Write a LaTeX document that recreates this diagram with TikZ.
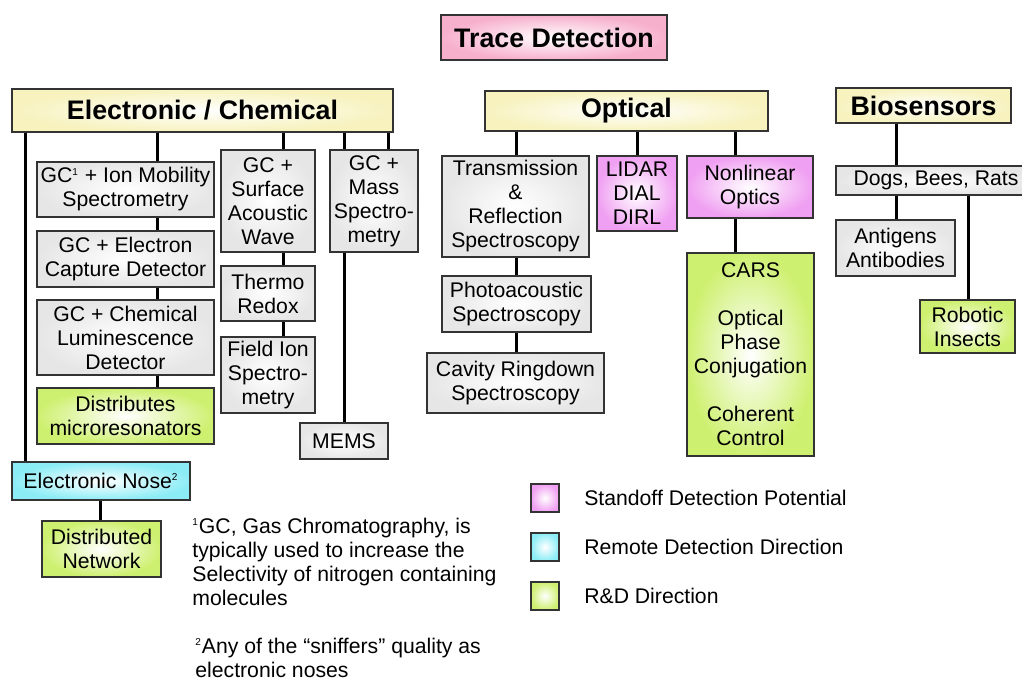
\documentclass[tikz,border=0pt]{standalone}
\usepackage{fontspec}
\setmainfont{Liberation Sans}
\usetikzlibrary{positioning}
\definecolor{boxgray}{RGB}{230,230,230}
\definecolor{headyellow}{RGB}{247,242,190}
\definecolor{tracepink}{RGB}{247,176,204}
\definecolor{standoffpink}{RGB}{240,160,242}
\definecolor{remotecyan}{RGB}{140,236,246}
\definecolor{rndgreen}{RGB}{206,240,112}
\newcommand\fnmark[1]{\textsuperscript{\fontsize{5}{5}\selectfont#1}}

\begin{document}
\begin{tikzpicture}[x=0.5pt, y=-0.5pt,
	box/.style={draw=black!80, line width=0.9pt, inner color=white, outer color=boxgray,
		align=center, inner sep=0pt, font=\fontsize{10.6}{12}\selectfont},
	head/.style={box, outer color=headyellow, font=\fontsize{13.4}{15}\selectfont\bfseries},
	standoff/.style={outer color=standoffpink},
	remote/.style={outer color=remotecyan},
	rnd/.style={outer color=rndgreen},
	wh/.style 2 args={minimum width=#1*0.5pt, minimum height=#2*0.5pt},
	link/.style={line width=1.5pt},
	note/.style={align=left, inner sep=0pt, font=\fontsize{10.6}{12}\selectfont}]
	\useasboundingbox (0,0) rectangle (1022,681);

	% headers
	\node[head, outer color=tracepink, wh={226}{45}] (trace) at (554,37.5) {Trace Detection};
	\node[head, wh={381}{43}] (elec) at (202.5,110.5) {Electronic / Chemical};
	\node[head, wh={283}{40}] (optic) at (626.5,111) {Optical};
	\node[head, wh={175}{35}] (bio) at (923.5,105.5) {Biosensors};

	% electronic / chemical
	\node[box, wh={177}{55}] (gcion) at (125.5,189.5) {GC\fnmark{1} + Ion Mobility\\Spectrometry};
	\node[box, wh={177}{56}] (gcecd) at (125.5,259) {GC + Electron\\Capture Detector};
	\node[box, wh={177}{75}] (gccld) at (125.5,337.5) {GC + Chemical\\Luminescence\\Detector};
	\node[box, rnd, wh={177}{56}] (micro) at (125.5,416) {Distributes\\microresonators};
	\node[box, wh={94}{102}] (saw) at (268,201) {GC +\\Surface\\Acoustic\\Wave};
	\node[box, wh={94}{55}] (redox) at (268,293.5) {Thermo\\Redox};
	\node[box, wh={94}{76}] (fis) at (268,375) {Field Ion\\Spectro-\\metry};
	\node[box, wh={88}{102}] (gcms) at (374,201) {GC +\\Mass\\Spectro-\\metry};
	\node[box, wh={88}{36}] (mems) at (344,441) {MEMS};
	\node[box, remote, wh={178}{38}] (nose) at (101,481) {Electronic Nose\fnmark{2}};
	\node[box, rnd, wh={119}{56}] (net) at (101.5,549) {Distributed\\Network};

	% optical
	\node[box, wh={147}{101}] (trans) at (515.5,206.5) {Transmission\\\&\\Reflection\\Spectroscopy};
	\node[box, standoff, wh={80}{75}] (lidar) at (637,193.5) {LIDAR\\DIAL\\DIRL};
	\node[box, standoff, wh={126}{62}] (nlo) at (750,187) {Nonlinear\\Optics};
	\node[box, rnd, wh={127}{203}] (cars) at (750.5,354.5) {CARS\\[12pt]Optical\\Phase\\Conjugation\\[12pt]Coherent\\Control};
	\node[box, wh={149}{56}] (pas) at (516.5,304) {Photoacoustic\\Spectroscopy};
	\node[box, wh={177}{60}] (crds) at (515.5,383) {Cavity Ringdown\\Spectroscopy};

	% biosensors
	\node[box, wh={200}{29}] (dogs) at (936,180.5) {Dogs, Bees, Rats};
	\node[box, wh={119}{56}] (antab) at (895.5,248) {Antigens\\Antibodies};
	\node[box, rnd, wh={95}{53}] (robo) at (967.5,326.5) {Robotic\\Insects};

	% tracks of the connectors
	\coordinate (tnose) at (25,0);
	\coordinate (tnet) at (100,0);
	\coordinate (tgc) at (157,0);
	\coordinate (tsaw) at (283,0);
	\coordinate (tmems) at (344,0);
	\coordinate (tms) at (388,0);
	\coordinate (tspec) at (516,0);
	\coordinate (tlidar) at (637,0);
	\coordinate (tnlo) at (735,0);
	\coordinate (tdogs) at (896,0);
	\coordinate (trobo) at (968,0);
	\foreach \t/\a/\b in {tnose/elec/nose, tnet/nose/net,
		tgc/elec/gcion, tgc/gcion/gcecd, tgc/gcecd/gccld, tgc/gccld/micro,
		tsaw/elec/saw, tsaw/saw/redox, tsaw/redox/fis,
		tmems/elec/gcms, tmems/gcms/mems, tms/elec/gcms,
		tspec/optic/trans, tspec/trans/pas, tspec/pas/crds,
		tlidar/optic/lidar, tnlo/optic/nlo, tnlo/nlo/cars,
		tdogs/bio/dogs, tdogs/dogs/antab, trobo/dogs/robo}
		\draw[link] (\t |- \a.south) -- (\t |- \b.north);

	% legend
	\node[box, standoff, wh={28}{28}] (kstand) at (545,498) {};
	\node[box, remote, wh={28}{28}] (kremote) at (545,547) {};
	\node[box, rnd, wh={28}{28}] (krnd) at (545,596) {};
	\node[note, right=12pt of kstand] (tstand) {Standoff Detection Potential};
	\node[note, right=12pt of kremote] (tremote) {Remote Detection Direction};
	\node[note, right=12pt of krnd] (trnd) {R\&D Direction};

	% footnotes
	\node[note, anchor=north west] (fnone) at (192,518) {\fnmark{1}GC, Gas Chromatography, is\\typically used to increase the\\Selectivity of nitrogen containing\\molecules};
	\node[note, anchor=north west] (fntwo) at (195,638) {\fnmark{2}Any of the “sniffers” quality as\\electronic noses};

\end{tikzpicture}
\end{document}
